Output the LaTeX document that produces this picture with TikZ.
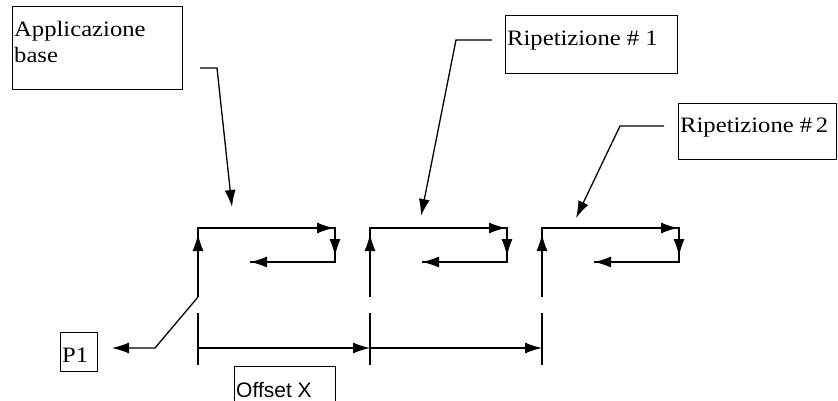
\documentclass[tikz,border=0pt]{standalone}
\usepackage{fontspec}
\setmainfont{Liberation Serif}[FakeStretch=1.12]
\setsansfont{Liberation Sans}
\usetikzlibrary{arrows.meta}
\begin{document}
\begin{tikzpicture}[x=1pt,y=-1pt,
  ln/.style={line width=1.3pt,line join=miter},
  arr/.style={ln,-{Latex[length=17pt,width=11pt]}},
  boxst/.style={draw,line width=1.4pt,inner sep=0pt,anchor=north west},
  txt/.style={anchor=base west,inner sep=0pt,font=\fontsize{22}{26}\selectfont,align=left}]
\useasboundingbox (0,0) rectangle (838,401);
% boxes
\node[boxst,minimum width=170pt,minimum height=83pt] (appbox) at (12,6) {};
\node[txt] (apptext) at (14,63) {Applicazione\\base};
\node[boxst,minimum width=172pt,minimum height=58pt] (r1box) at (505,15) {};
\node[txt] (r1text) at (507,46) {Ripetizione \# 1};
\node[boxst,minimum width=158pt,minimum height=56pt] (r2box) at (678,103) {};
\node[txt] (r2text) at (680,133) {Ripetizione \#\,2};
\node[boxst,minimum width=37pt,minimum height=39pt] (p1box) at (60,332) {};
\node[txt] (p1text) at (62,362) {P1};
\node[boxst,minimum width=101pt,minimum height=50pt] (offbox) at (234,366) {};
\node[txt,font=\sffamily\fontsize{21}{24}\selectfont] (offtext) at (236,397) {Offset X};
% patterns
\foreach \i in {0,1,2}{
  \begin{scope}[xshift=172*\i]
    \coordinate (s\i) at (198,297);
    \coordinate (a\i) at (198,228);
    \coordinate (b\i) at (335,228);
    \coordinate (c\i) at (335,262);
    \coordinate (d\i) at (250,262);
    \draw[ln] (s\i) -- (a\i) -- (b\i) -- (c\i) -- (d\i);
    \draw[arr] (198,255) -- (198,234);
    \draw[arr] (310,228) -- (334,228);
    \draw[arr] (335,236) -- (335,256);
    \draw[arr] (275,262) -- (d\i);
    \coordinate (e\i) at (198,313);
    \coordinate (f\i) at (198,365);
    \draw[ln] (e\i) -- (f\i);
  \end{scope}
}
% dimension line
\coordinate (m0) at (198,348);
\coordinate (m1) at (370,348);
\coordinate (m2) at (542,348);
\draw[arr] (m0) -- (m1);
\draw[arr] (m1) -- (m2);
% leaders
\coordinate (la0) at (200,68);
\coordinate (la1) at (217,68);
\coordinate (la2) at (232,207);
\draw[arr] (la0) -- (la1) -- (la2);
\coordinate (lb0) at (492,40);
\coordinate (lb1) at (456,40);
\coordinate (lb2) at (421,216);
\draw[arr] (lb0) -- (lb1) -- (lb2);
\coordinate (lc0) at (664,126);
\coordinate (lc1) at (620,126);
\coordinate (lc2) at (576,218);
\draw[arr] (lc0) -- (lc1) -- (lc2);
\coordinate (ld1) at (155,348);
\coordinate (ld2) at (112,348);
\draw[arr] (s0) -- (ld1) -- (ld2);
\end{tikzpicture}
\end{document}
